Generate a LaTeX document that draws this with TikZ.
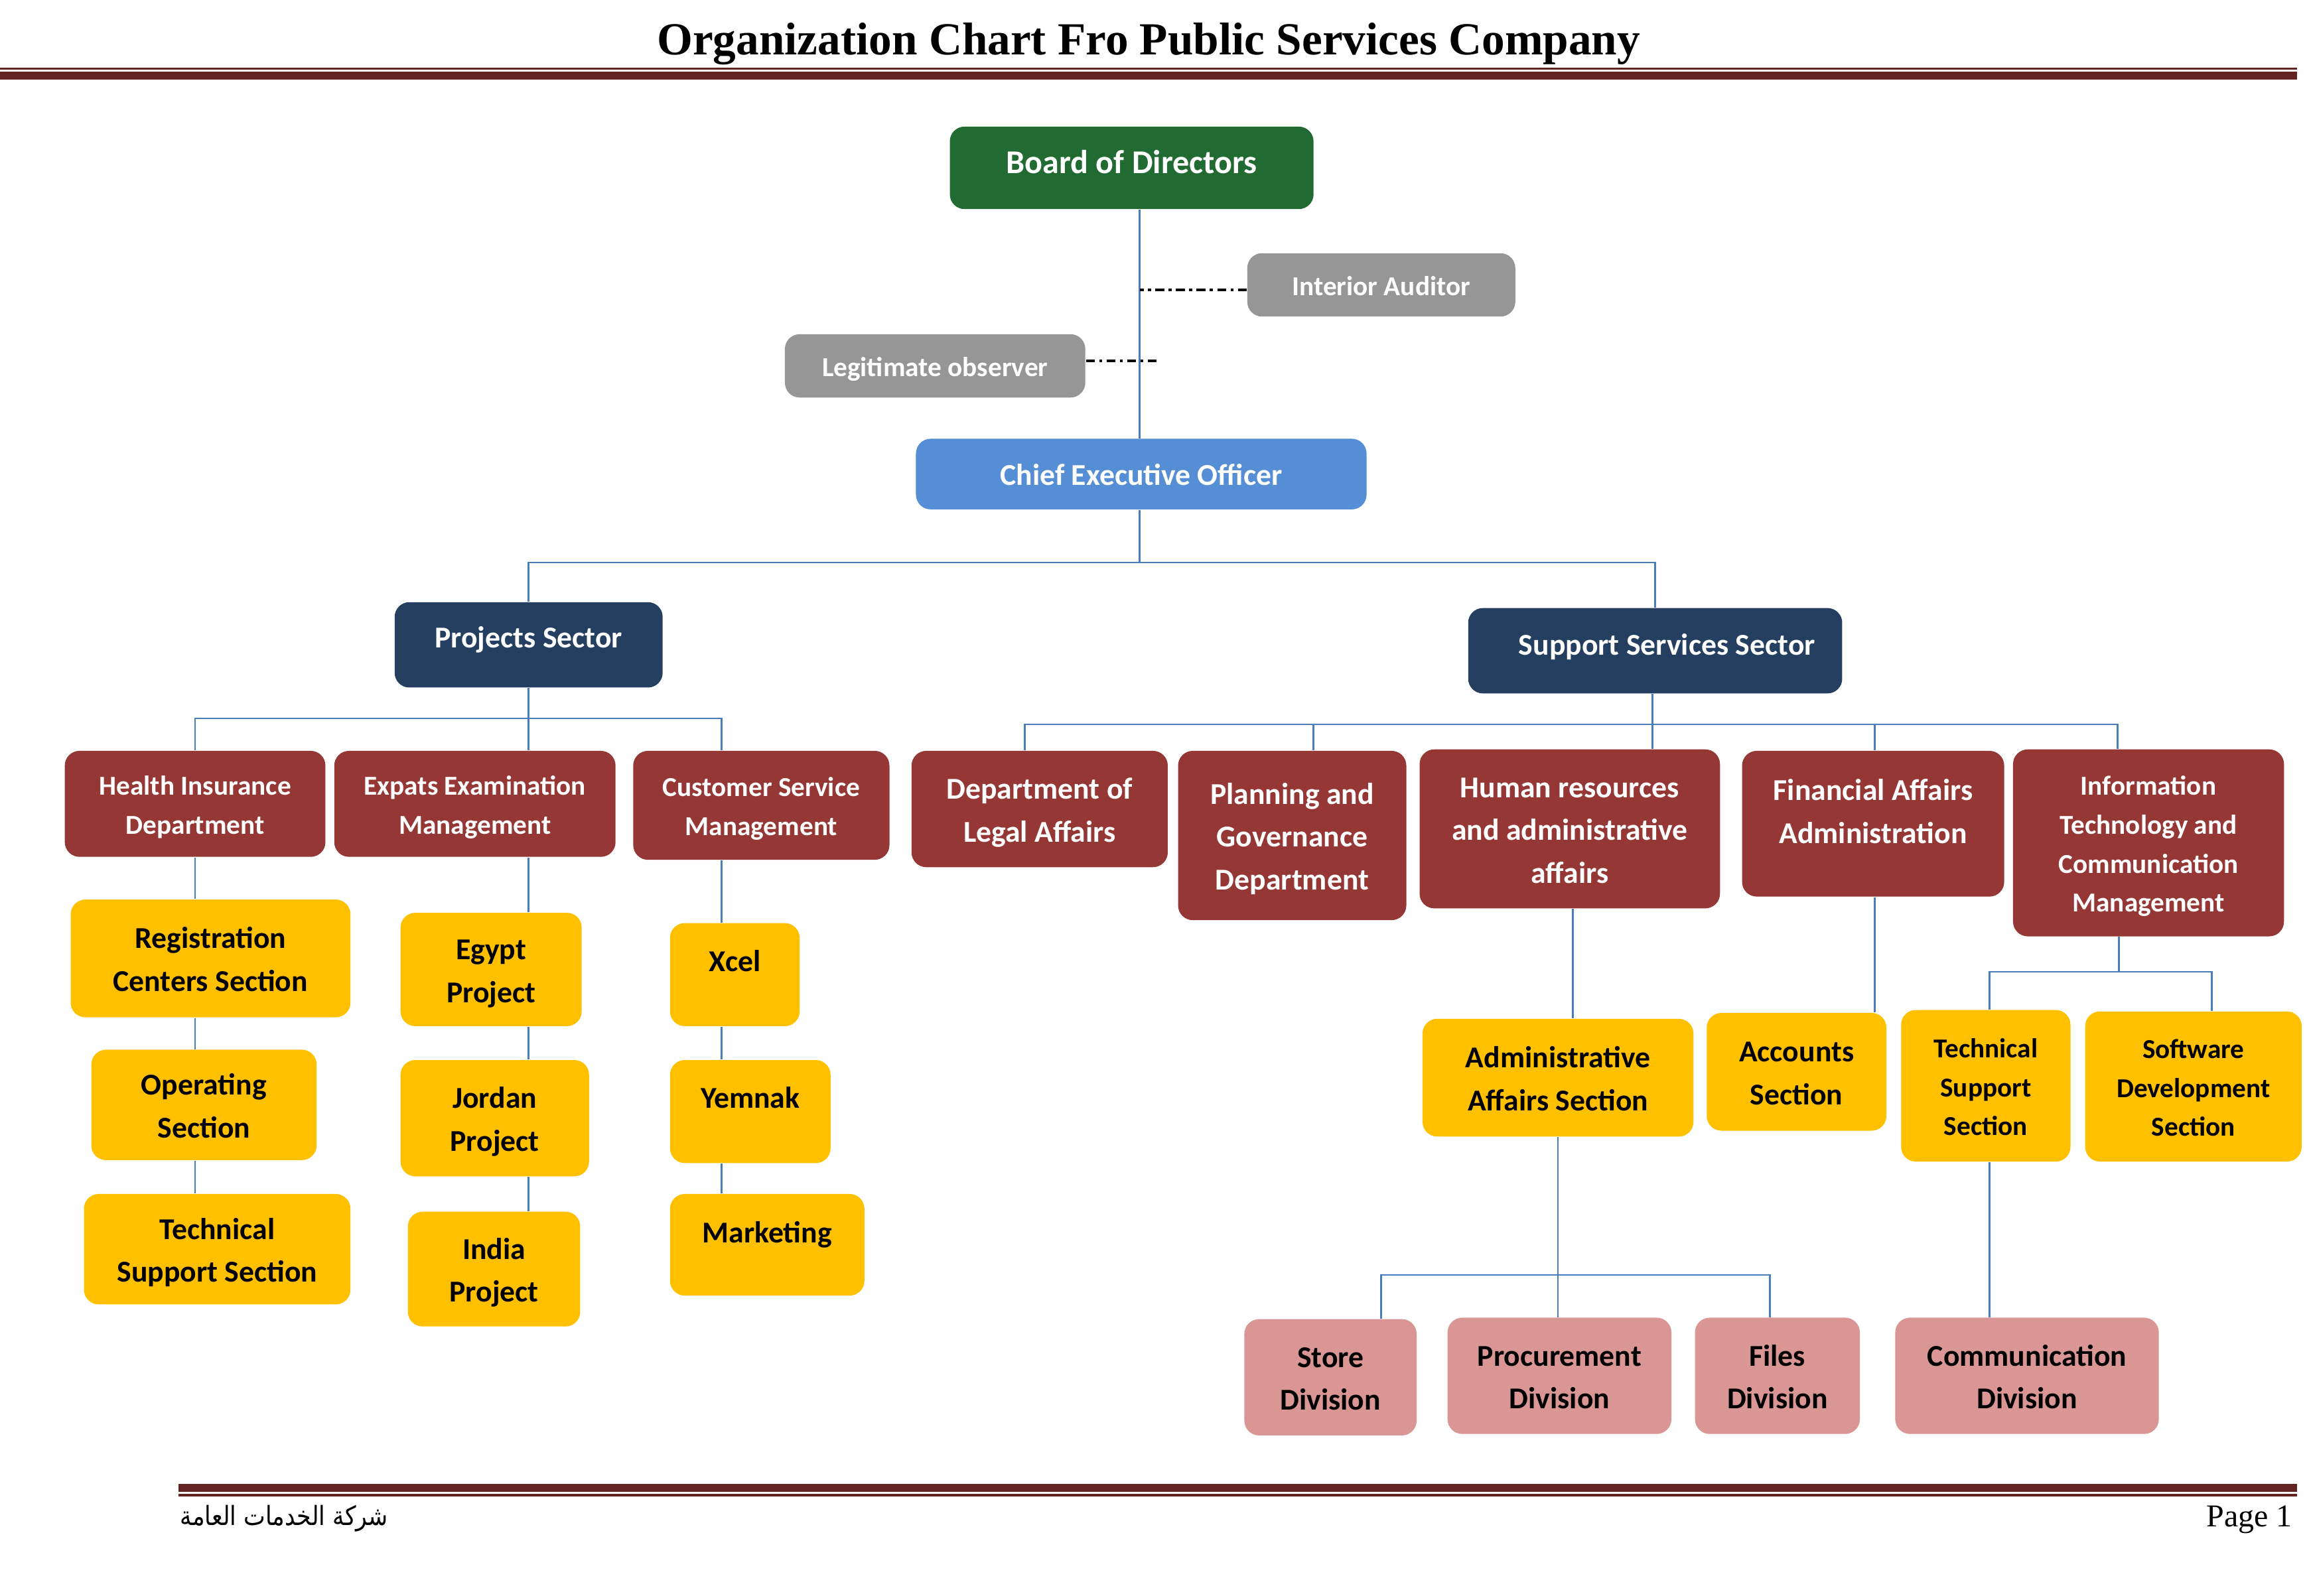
\documentclass[tikz,border=0pt]{standalone}
\usepackage{fontspec}
\setmainfont{Carlito}
\newfontfamily\titlefont{Liberation Serif}
\newfontfamily\arabicfont[Script=Arabic]{DejaVu Sans}
\TeXXeTstate=1
\definecolor{bdgreen}{HTML}{216A31}
\definecolor{obsgray}{HTML}{969696}
\definecolor{ceoblue}{HTML}{558ED5}
\definecolor{navy}{HTML}{243F60}
\definecolor{maroon}{HTML}{953735}
\definecolor{gold}{HTML}{FFC000}
\definecolor{rose}{HTML}{D99694}
\definecolor{lineblue}{HTML}{4A7EBB}
\definecolor{rule}{HTML}{622423}
\newcommand\fSm{\fontsize{9.3}{13.2}\selectfont}
\newcommand\fMd{\fontsize{10.3}{14.5}\selectfont}
\newcommand\fLg{\fontsize{11.3}{14}\selectfont}
\newcommand\lift[2]{\raisebox{#1}[\height][\depth]{#2}}
\newcommand\orgbox[8][-1pt]{%
  \node[#3, minimum width={(#6-#4)*0.5pt}, minimum height={(#7-#5)*0.5pt}]
    (#2) at ({(#4+#6)/2},{(#5+#7)/2}) {\lift{#1}{\begin{tabular}{@{}c@{}}#8\end{tabular}}};}
\tikzset{
  orgbase/.style={rounded corners=5pt, inner sep=0pt, text=white, font=\bfseries\fMd},
  greenbox/.style={orgbase, fill=bdgreen, font=\bfseries\fLg},
  graybox/.style={orgbase, fill=obsgray, font=\bfseries\fSm},
  ceobox/.style={orgbase, fill=ceoblue},
  sectorbox/.style={orgbase, fill=navy},
  deptbox/.style={orgbase, fill=maroon},
  deptsmall/.style={deptbox, font=\bfseries\fSm},
  secbox/.style={orgbase, fill=gold, text=black},
  secsmall/.style={secbox, font=\bfseries\fSm},
  divbox/.style={orgbase, fill=rose, text=black},
  conn/.style={draw=lineblue, line width=0.6pt},
  dashdot/.style={draw=black, line width=0.8pt, dash pattern=on 3pt off 1.5pt on 1pt off 1.5pt},
}
\begin{document}
\begin{tikzpicture}[x=0.5pt, y=-0.5pt]
\useasboundingbox (0,0) rectangle (1568,1084);
% header
\node[font=\titlefont\bfseries\fontsize{15.6}{18}\selectfont, anchor=base, inner sep=0pt] (title) at (780,37) {Organization Chart Fro Public Services Company};
\fill[rule] (0,45.8) rectangle (1560,47.2);
\fill[rule] (0,48.8) rectangle (1560,54);
% footer
\fill[rule] (121,1008) rectangle (1560,1013.5);
\fill[rule] (121,1014.8) rectangle (1560,1016.3);
\node[font=\arabicfont\fontsize{9}{12}\selectfont, anchor=base west, inner sep=0pt] (arab) at (122,1036) {\scalebox{0.87}[1]{\beginR شركة الخدمات العامة\endR}};
\node[font=\titlefont\fontsize{10.8}{13}\selectfont, anchor=base east, inner sep=0pt] (page) at (1557,1037) {Page 1};
% top
\orgbox[1pt]{board}{greenbox}{645}{86}{892}{142}{Board of Directors}
\orgbox{aud}{graybox}{847}{172}{1029}{215}{Interior Auditor}
\orgbox{obs}{graybox}{533}{227}{737}{270}{Legitimate observer}
\orgbox{ceo}{ceobox}{622}{298}{928}{346}{Chief Executive Officer}
\orgbox[2pt]{ps}{sectorbox}{268}{409}{450}{467}{Projects Sector}
\orgbox[1.5pt]{ss}{sectorbox}{997}{413}{1251}{471}{\hspace*{8pt}Support Services Sector}
% projects
\orgbox{health}{deptsmall}{44}{510}{221}{582}{Health Insurance\\Department}
\orgbox{expats}{deptsmall}{227}{510}{418}{582}{Expats Examination\\Management}
\orgbox{cust}{deptsmall}{430}{510}{604}{584}{Customer Service\\Management}
\orgbox{reg}{secbox}{48}{611}{238}{691}{Registration\\Centers Section}
\orgbox{oper}{secbox}{62}{713}{215}{788}{Operating\\Section}
\orgbox{techA}{secbox}{57}{811}{238}{886}{Technical\\Support Section}
\orgbox{egypt}{secbox}{272}{620}{395}{697}{Egypt\\Project}
\orgbox{jordan}{secbox}{272}{720}{400}{799}{Jordan\\Project}
\orgbox{india}{secbox}{277}{823}{394}{901}{India\\Project}
\orgbox[4pt]{xcel}{secbox}{455}{627}{543}{697}{Xcel}
\orgbox[4pt]{yemnak}{secbox}{455}{720}{564}{790}{Yemnak}
\orgbox[3.5pt]{market}{secbox}{455}{811}{587}{880}{Marketing}
% support
\orgbox{legal}{deptbox}{619}{510}{793}{589}{Department of\\Legal Affairs}
\orgbox{plan}{deptbox}{800}{510}{955}{625}{Planning and\\Governance\\Department}
\orgbox{hr}{deptbox}{964}{509}{1168}{617}{Human resources\\and administrative\\affairs}
\orgbox[3.5pt]{fin}{deptbox}{1183}{510}{1361}{609}{Financial Affairs\\Administration}
\orgbox{it}{deptsmall}{1367}{509}{1551}{636}{Information\\Technology and\\Communication\\Management}
\orgbox{admin}{secbox}{966}{692}{1150}{772}{Administrative\\Affairs Section}
\orgbox{acc}{secbox}{1159}{688}{1281}{768}{Accounts\\Section}
\orgbox{techB}{secsmall}{1291}{686}{1406}{789}{Technical\\Support\\Section}
\orgbox{soft}{secsmall}{1416}{687}{1563}{789}{Software\\Development\\Section}
\orgbox{store}{divbox}{845}{896}{962}{975}{Store\\Division}
\orgbox{proc}{divbox}{983}{895}{1135}{974}{Procurement\\Division}
\orgbox{files}{divbox}{1151}{895}{1263}{974}{Files\\Division}
\orgbox{comm}{divbox}{1287}{895}{1466}{974}{Communication\\Division}
% connectors: top
\coordinate (busA) at (774,382);
\draw[conn] (board.south -| busA) -- (ceo.north -| busA);
\draw[conn] (ceo.south -| busA) -- (busA);
\draw[conn] (ps.north) -- (ps.north |- busA) -- (busA) -- (ss.north |- busA) -- (ss.north);
\coordinate (obsend) at (787,245);
\draw[dashdot] (aud.west |- 0,197) -- (busA |- 0,197);
\draw[dashdot] (obs.east |- obsend) -- (obsend);
% projects
\coordinate (busB) at (359,488);
\coordinate (cx) at (490,488);
\draw[conn] (ps.south) -- (busB);
\draw[conn] (health.north) -- (health.north |- busB) -- (cx) -- (cx |- cust.north);
\draw[conn] (busB) -- (busB |- expats.north);
\draw[conn] (health.south) -- (health.south |- reg.north);
\draw[conn] (reg.south -| health.south) -- (health.south |- oper.north);
\draw[conn] (oper.south -| health.south) -- (health.south |- techA.north);
\draw[conn] (expats.south -| busB) -- (busB |- egypt.north);
\draw[conn] (egypt.south -| busB) -- (busB |- jordan.north);
\draw[conn] (jordan.south -| busB) -- (busB |- india.north);
\draw[conn] (cust.south -| cx) -- (cx |- xcel.north);
\draw[conn] (xcel.south -| cx) -- (cx |- yemnak.north);
\draw[conn] (yemnak.south -| cx) -- (cx |- market.north);
% support
\coordinate (busC) at (1122,492);
\coordinate (dl) at (696,492);
\coordinate (dp) at (892,492);
\coordinate (df) at (1273,492);
\coordinate (di) at (1438,492);
\draw[conn] (ss.south -| busC) -- (busC) -- (busC |- hr.north);
\draw[conn] (dl |- legal.north) -- (dl) -- (di) -- (di |- it.north);
\draw[conn] (dp) -- (dp |- plan.north);
\draw[conn] (df) -- (df |- fin.north);
\coordinate (hx) at (1068,617);
\draw[conn] (hr.south -| hx) -- (hx |- admin.north);
\draw[conn] (fin.south -| df) -- (df |- acc.north);
% admin divisions
\coordinate (busD) at (1058,866);
\coordinate (stx) at (938,866);
\coordinate (fix) at (1202,866);
\draw[conn] (admin.south -| busD) -- (busD |- proc.north);
\draw[conn] (stx |- store.north) -- (stx) -- (fix) -- (fix |- files.north);
% IT
\coordinate (busE) at (1439,660);
\coordinate (tx) at (1351,660);
\coordinate (swx) at (1502,660);
\draw[conn] (it.south -| busE) -- (busE);
\draw[conn] (tx |- techB.north) -- (tx) -- (swx) -- (swx |- soft.north);
\draw[conn] (techB.south -| tx) -- (tx |- comm.north);
\end{tikzpicture}
\end{document}
